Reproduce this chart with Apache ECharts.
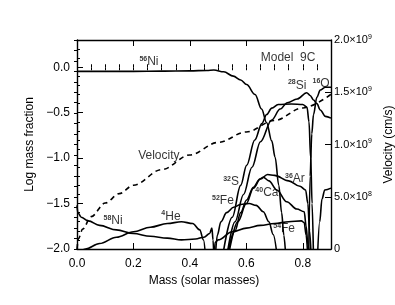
<!DOCTYPE html>
<html><head><meta charset="utf-8">
<script src="https://cdn.jsdelivr.net/npm/echarts@6/dist/echarts.min.js"></script>
<style>html,body{margin:0;padding:0;background:#fff}#c{width:395px;height:305px}</style>
</head><body><div id="c"></div>
<script>
// Mass coordinate (solar masses) vs log mass fraction
const ni56 = [[0,-0.045],[0.1,-0.045],[0.2,-0.045],[0.3,-0.043],[0.4,-0.04],[0.46,-0.035],[0.485,-0.03],[0.52,-0.05],[0.554,-0.098],[0.58,-0.14],[0.601,-0.19],[0.631,-0.30],[0.654,-0.46],[0.672,-0.61],[0.69,-0.81],[0.702,-0.99],[0.715,-1.3],[0.725,-1.6],[0.733,-1.85],[0.74,-2.1]];
const ni58 = [[0,-1.52],[0.003,-1.6],[0.015,-1.65],[0.04,-1.69],[0.08,-1.74],[0.14,-1.79],[0.2,-1.83],[0.26,-1.86],[0.32,-1.88],[0.37,-1.9],[0.42,-1.89],[0.45,-1.87],[0.47,-1.83],[0.478,-1.77],[0.482,-1.9],[0.485,-2.1]];
const he4 = [[0.005,-2.05],[0.03,-2.0],[0.08,-1.94],[0.14,-1.87],[0.2,-1.81],[0.26,-1.76],[0.32,-1.72],[0.37,-1.70],[0.41,-1.72],[0.435,-1.79],[0.448,-1.9],[0.456,-2.1]];
const fe54 = [[0.486,-2.1],[0.489,-1.93],[0.5,-1.9],[0.55,-1.81],[0.6,-1.77],[0.65,-1.74],[0.7,-1.72],[0.75,-1.7],[0.795,-1.69],[0.805,-1.71],[0.812,-1.85],[0.818,-2.1]];
const fe52 = [[0.49,-2.1],[0.497,-1.85],[0.51,-1.7],[0.53,-1.6],[0.555,-1.54],[0.58,-1.51],[0.61,-1.5],[0.635,-1.52],[0.66,-1.59],[0.68,-1.7],[0.695,-1.84],[0.71,-2.1]];
const s32 = [[0.515,-2.1],[0.55,-1.65],[0.58,-1.3],[0.601,-1.08],[0.63,-0.8],[0.655,-0.62],[0.672,-0.52],[0.69,-0.45],[0.713,-0.41],[0.76,-0.405],[0.8,-0.41],[0.815,-0.44],[0.822,-0.6],[0.828,-1.0],[0.833,-1.5],[0.838,-2.1]];
const si28 = [[0.53,-2.1],[0.56,-1.7],[0.59,-1.4],[0.62,-1.1],[0.65,-0.82],[0.69,-0.58],[0.72,-0.46],[0.745,-0.39],[0.78,-0.35],[0.814,-0.28],[0.826,-0.31],[0.838,-0.36],[0.85,-0.4],[0.862,-0.47],[0.88,-0.54],[0.9,-0.56]];
const o16 = [[0.821,-2.1],[0.826,-1.2],[0.832,-0.73],[0.838,-0.52],[0.85,-0.33],[0.862,-0.25],[0.88,-0.22],[0.9,-0.22]];
const ca40 = [[0.53,-2.1],[0.56,-1.8],[0.58,-1.6],[0.601,-1.46],[0.625,-1.32],[0.648,-1.23],[0.66,-1.21],[0.68,-1.25],[0.708,-1.35],[0.743,-1.48],[0.779,-1.56],[0.805,-1.59],[0.812,-1.75],[0.818,-1.95],[0.824,-2.1]];
const ar36 = [[0.535,-2.1],[0.57,-1.7],[0.6,-1.5],[0.625,-1.33],[0.65,-1.23],[0.675,-1.18],[0.7,-1.19],[0.75,-1.25],[0.79,-1.31],[0.81,-1.35],[0.818,-1.5],[0.824,-1.8],[0.83,-2.1]];
const outerTail = [[0.852,-2.1],[0.86,-1.7],[0.868,-1.45],[0.878,-1.35],[0.9,-1.33]];
// Velocity (cm/s)
const velocity = [[0,0],[0.005,1.0e8],[0.02,1.9e8],[0.05,3.1e8],[0.1,4.4e8],[0.15,5.3e8],[0.2,6.1e8],[0.3,7.6e8],[0.4,9.0e8],[0.5,1.02e9],[0.6,1.12e9],[0.7,1.23e9],[0.8,1.35e9],[0.9,1.48e9]];
// Annotations: [x, y, text]
const notes = [
  [0.255,0.06,'{s|56}{t|Ni}'],
  [0.29,-0.975,'{t|Velocity}'],
  [0.128,-1.69,'{s|58}{t|Ni}'],
  [0.333,-1.64,'{s|4}{t|He}'],
  [0.78,-0.2,'{s|28}{t|Si}'],
  [0.865,-0.18,'{s|16}{t|O}'],
  [0.546,-1.26,'{s|32}{t|S}'],
  [0.517,-1.47,'{s|52}{t|Fe}'],
  [0.673,-1.38,'{s|40}{t|Ca}'],
  [0.772,-1.23,'{s|36}{t|Ar}'],
  [0.734,-1.78,'{s|54}{t|Fe}'],
  [0.748,0.11,'{t|Model  9C}']
];
const xTicks = [0,0.2,0.4,0.6,0.8];
const yTicks = [-2,-1.5,-1,-0.5,0];

const FONT = 'Liberation Sans, Arial, sans-serif';
const black = '#000';
function lineSeries(data, yIdx, dashed){
  return {type:'line', data, xAxisIndex:0, yAxisIndex:yIdx, showSymbol:false, smooth:0.35, smoothMonotone:'x',
    clip:true, silent:true, lineStyle:{color:black, width:1.6, type: dashed ? [5,4] : 'solid'}};
}
function axisBase(extra){
  return Object.assign({type:'value', splitLine:{show:false}, axisLine:{show:true, onZero:false, lineStyle:{color:black,width:1.4}},
    axisTick:{show:true, inside:true, length:6, lineStyle:{color:black,width:1}}, axisLabel:{show:false}}, extra);
}
function minorAxis(extra){
  return Object.assign({type:'value', splitLine:{show:false}, axisLine:{show:false},
    axisTick:{show:true, inside:true, length:3, lineStyle:{color:black,width:1}}, axisLabel:{show:false}}, extra);
}
const near = (v, arr) => arr.some(t => Math.abs(t - v) < 1e-6);
const chart = echarts.init(document.getElementById('c'), null, {renderer:'canvas'});
chart.setOption({
  animation:false,
  backgroundColor:'#fff',
  grid:{left:77, right:64, top:40, bottom:56, containLabel:false, outerBoundsMode:'none'},
  xAxis:[
    axisBase({min:0, max:0.9, interval:0.2, position:'bottom',
      axisLabel:{show:true, color:black, fontSize:12, fontFamily:FONT, margin:9,
        formatter: v => near(v, xTicks) ? v.toFixed(1) : ''},
      name:'Mass (solar masses)', nameLocation:'middle', nameGap:23,
      nameTextStyle:{color:black, fontSize:12, fontFamily:FONT}}),
    minorAxis({min:0, max:0.9, interval:0.05, position:'bottom'}),
    axisBase({min:0, max:0.9, interval:0.2, position:'top'}),
    minorAxis({min:0, max:0.9, interval:0.05, position:'top'})
  ],
  yAxis:[
    axisBase({min:-2, max:0.3, interval:0.5, position:'left',
      axisLabel:{show:true, color:black, fontSize:12, fontFamily:FONT, margin:7,
        formatter: v => near(v, yTicks) ? (v < 0 ? '\u2212' : '') + Math.abs(v).toFixed(1) : ''},
      name:'Log mass fraction', nameLocation:'middle', nameGap:35, nameRotate:90,
      nameTextStyle:{color:black, fontSize:12, fontFamily:FONT}}),
    minorAxis({min:-2, max:0.3, interval:0.1, position:'left'}),
    axisBase({min:0, max:2e9, interval:5e8, position:'right',
      axisLabel:{show:true, color:black, fontSize:11, fontFamily:FONT, margin:3,
        formatter: v => {
          if (v === 0) return '0';
          const e = Math.floor(Math.log10(v) + 1e-9);
          const m = v / Math.pow(10, e);
          return '{n|' + m.toFixed(1) + '\u00d710}{s|' + e + '}';
        },
        rich:{n:{fontSize:11, fontFamily:FONT, color:black}, s:{fontSize:7, fontFamily:FONT, color:black, verticalAlign:'top', padding:[0,0,6,0]}}},
      name:'Velocity (cm/s)', nameLocation:'middle', nameGap:50, nameRotate:90,
      nameTextStyle:{color:black, fontSize:12, fontFamily:FONT}}),
    minorAxis({min:0, max:2e9, interval:1e8, position:'right'})
  ],
  series:[
    lineSeries(ni56,0), lineSeries(ni58,0), lineSeries(he4,0), lineSeries(fe54,0), lineSeries(fe52,0),
    lineSeries(s32,0), lineSeries(si28,0), lineSeries(o16,0), lineSeries(ca40,0), lineSeries(ar36,0),
    lineSeries(outerTail,0),
    lineSeries(velocity,2,true),
    {type:'scatter', xAxisIndex:0, yAxisIndex:0, data:notes, symbolSize:1, silent:true,
      itemStyle:{color:'rgba(0,0,0,0)'},
      label:{show:true, position:'inside', formatter: p => p.data[2],
        rich:{
          s:{fontSize:7, fontFamily:FONT, color:black, fontWeight:'bold', padding:[0,0,6,0]},
          t:{fontSize:12, fontFamily:FONT, color:black}
        }}}
  ]
});
</script>
</body></html>
